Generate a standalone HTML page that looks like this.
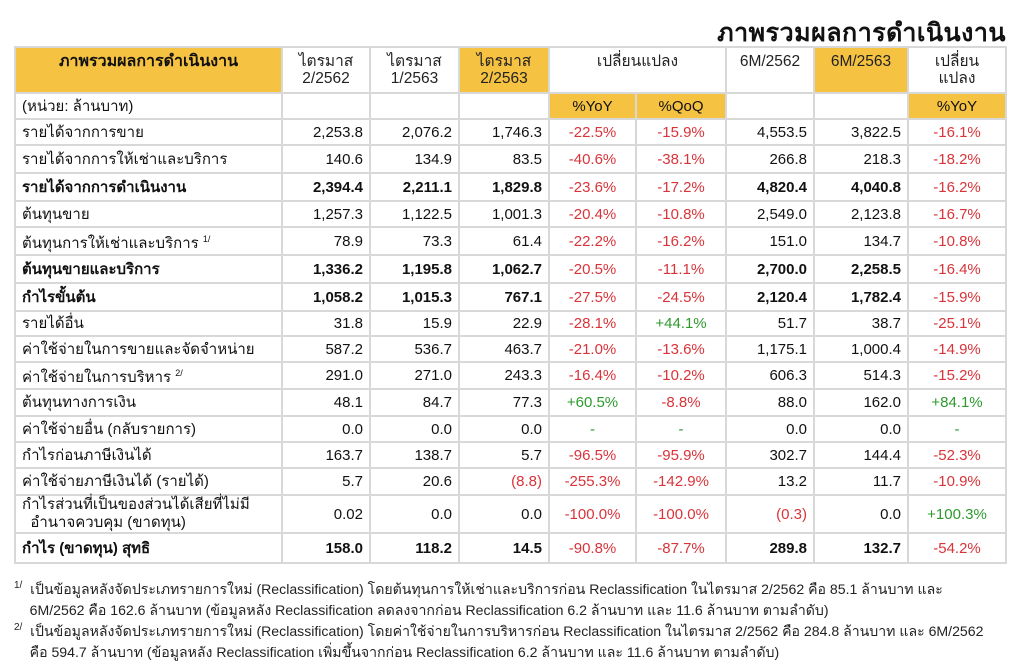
<!DOCTYPE html>
<html><head><meta charset="utf-8">
<style>
body{margin:0;width:1024px;height:661px;background:#fff;font-family:"Liberation Sans","DejaVu Sans",sans-serif;color:#111;position:relative;overflow:hidden}
.title{position:absolute;right:18px;top:13px;font-size:25px;font-weight:bold;letter-spacing:0.5px}
table{position:absolute;left:14px;top:46px;border-collapse:collapse;table-layout:fixed;font-size:15px}
td{border:2px solid #d8d8d8;padding:0 6px;white-space:nowrap;line-height:17px}
td.n{text-align:right}
td.c{text-align:center}
.g{background:#f5c242}
.r{color:#d9343a;text-align:center}
.gr{color:#2e9a2e;text-align:center}
.b{font-weight:bold}
.hd td{vertical-align:top;padding-top:5px;text-align:center;color:#222;font-size:15.5px}
.fn{position:absolute;left:14px;font-size:14.1px;line-height:21px;color:#222;white-space:nowrap}
.fn sup{font-size:10px;vertical-align:6px}
</style></head><body>
<div class="title">ภาพรวมผลการดำเนินงาน</div>
<table>
<colgroup><col style="width:267px"><col style="width:88px"><col style="width:89px"><col style="width:90px"><col style="width:87px"><col style="width:90px"><col style="width:88px"><col style="width:94px"><col style="width:98px"></colgroup>
<tr class="hd" style="height:46px"><td class="g b" style="text-align:center;font-size:16px;color:#111">ภาพรวมผลการดำเนินงาน</td><td>ไตรมาส<br>2/2562</td><td>ไตรมาส<br>1/2563</td><td class="g">ไตรมาส<br>2/2563</td><td colspan="2">เปลี่ยนแปลง</td><td>6M/2562</td><td class="g">6M/2563</td><td>เปลี่ยน<br>แปลง</td></tr>
<tr style="height:26px"><td>(หน่วย: ล้านบาท)</td><td></td><td></td><td></td><td class="g c">%YoY</td><td class="g c">%QoQ</td><td></td><td></td><td class="g c">%YoY</td></tr>
<tr style="height:26px"><td>รายได้จากการขาย</td><td class="n">2,253.8</td><td class="n">2,076.2</td><td class="n">1,746.3</td><td class="r">-22.5%</td><td class="r">-15.9%</td><td class="n">4,553.5</td><td class="n">3,822.5</td><td class="r">-16.1%</td></tr>
<tr style="height:28px"><td>รายได้จากการให้เช่าและบริการ</td><td class="n">140.6</td><td class="n">134.9</td><td class="n">83.5</td><td class="r">-40.6%</td><td class="r">-38.1%</td><td class="n">266.8</td><td class="n">218.3</td><td class="r">-18.2%</td></tr>
<tr style="height:28px" class="b"><td>รายได้จากการดำเนินงาน</td><td class="n">2,394.4</td><td class="n">2,211.1</td><td class="n">1,829.8</td><td class="r" style="font-weight:normal">-23.6%</td><td class="r" style="font-weight:normal">-17.2%</td><td class="n">4,820.4</td><td class="n">4,040.8</td><td class="r" style="font-weight:normal">-16.2%</td></tr>
<tr style="height:26px"><td>ต้นทุนขาย</td><td class="n">1,257.3</td><td class="n">1,122.5</td><td class="n">1,001.3</td><td class="r">-20.4%</td><td class="r">-10.8%</td><td class="n">2,549.0</td><td class="n">2,123.8</td><td class="r">-16.7%</td></tr>
<tr style="height:28px"><td>ต้นทุนการให้เช่าและบริการ <sup style="font-size:9px">1/</sup></td><td class="n">78.9</td><td class="n">73.3</td><td class="n">61.4</td><td class="r">-22.2%</td><td class="r">-16.2%</td><td class="n">151.0</td><td class="n">134.7</td><td class="r">-10.8%</td></tr>
<tr style="height:28px" class="b"><td>ต้นทุนขายและบริการ</td><td class="n">1,336.2</td><td class="n">1,195.8</td><td class="n">1,062.7</td><td class="r" style="font-weight:normal">-20.5%</td><td class="r" style="font-weight:normal">-11.1%</td><td class="n">2,700.0</td><td class="n">2,258.5</td><td class="r" style="font-weight:normal">-16.4%</td></tr>
<tr style="height:28px" class="b"><td>กำไรขั้นต้น</td><td class="n">1,058.2</td><td class="n">1,015.3</td><td class="n">767.1</td><td class="r" style="font-weight:normal">-27.5%</td><td class="r" style="font-weight:normal">-24.5%</td><td class="n">2,120.4</td><td class="n">1,782.4</td><td class="r" style="font-weight:normal">-15.9%</td></tr>
<tr style="height:25px"><td>รายได้อื่น</td><td class="n">31.8</td><td class="n">15.9</td><td class="n">22.9</td><td class="r">-28.1%</td><td class="gr">+44.1%</td><td class="n">51.7</td><td class="n">38.7</td><td class="r">-25.1%</td></tr>
<tr style="height:26px"><td>ค่าใช้จ่ายในการขายและจัดจำหน่าย</td><td class="n">587.2</td><td class="n">536.7</td><td class="n">463.7</td><td class="r">-21.0%</td><td class="r">-13.6%</td><td class="n">1,175.1</td><td class="n">1,000.4</td><td class="r">-14.9%</td></tr>
<tr style="height:27px"><td>ค่าใช้จ่ายในการบริหาร <sup style="font-size:9px">2/</sup></td><td class="n">291.0</td><td class="n">271.0</td><td class="n">243.3</td><td class="r">-16.4%</td><td class="r">-10.2%</td><td class="n">606.3</td><td class="n">514.3</td><td class="r">-15.2%</td></tr>
<tr style="height:27px"><td>ต้นทุนทางการเงิน</td><td class="n">48.1</td><td class="n">84.7</td><td class="n">77.3</td><td class="gr">+60.5%</td><td class="r">-8.8%</td><td class="n">88.0</td><td class="n">162.0</td><td class="gr">+84.1%</td></tr>
<tr style="height:26px"><td>ค่าใช้จ่ายอื่น (กลับรายการ)</td><td class="n">0.0</td><td class="n">0.0</td><td class="n">0.0</td><td class="gr">-</td><td class="gr">-</td><td class="n">0.0</td><td class="n">0.0</td><td class="gr">-</td></tr>
<tr style="height:26px"><td>กำไรก่อนภาษีเงินได้</td><td class="n">163.7</td><td class="n">138.7</td><td class="n">5.7</td><td class="r">-96.5%</td><td class="r">-95.9%</td><td class="n">302.7</td><td class="n">144.4</td><td class="r">-52.3%</td></tr>
<tr style="height:27px"><td>ค่าใช้จ่ายภาษีเงินได้ (รายได้)</td><td class="n">5.7</td><td class="n">20.6</td><td class="n" style="color:#d9343a">(8.8)</td><td class="r">-255.3%</td><td class="r">-142.9%</td><td class="n">13.2</td><td class="n">11.7</td><td class="r">-10.9%</td></tr>
<tr style="height:38px"><td style="line-height:18px">กำไรส่วนที่เป็นของส่วนได้เสียที่ไม่มี<br>&nbsp;&nbsp;อำนาจควบคุม (ขาดทุน)</td><td class="n">0.02</td><td class="n">0.0</td><td class="n">0.0</td><td class="r">-100.0%</td><td class="r">-100.0%</td><td class="n" style="color:#d9343a">(0.3)</td><td class="n">0.0</td><td class="gr">+100.3%</td></tr>
<tr style="height:30px" class="b"><td>กำไร (ขาดทุน) สุทธิ</td><td class="n">158.0</td><td class="n">118.2</td><td class="n">14.5</td><td class="r" style="font-weight:normal">-90.8%</td><td class="r" style="font-weight:normal">-87.7%</td><td class="n">289.8</td><td class="n">132.7</td><td class="r" style="font-weight:normal">-54.2%</td></tr>
</table>
<div class="fn" style="top:575px"><sup>1/</sup>&nbsp; เป็นข้อมูลหลังจัดประเภทรายการใหม่ (Reclassification) โดยต้นทุนการให้เช่าและบริการก่อน Reclassification ในไตรมาส 2/2562 คือ 85.1 ล้านบาท และ<br>&nbsp;&nbsp;&nbsp;&nbsp;6M/2562 คือ 162.6 ล้านบาท (ข้อมูลหลัง Reclassification ลดลงจากก่อน Reclassification 6.2 ล้านบาท และ 11.6 ล้านบาท ตามลำดับ)</div>
<div class="fn" style="top:617px"><sup>2/</sup>&nbsp; เป็นข้อมูลหลังจัดประเภทรายการใหม่ (Reclassification) โดยค่าใช้จ่ายในการบริหารก่อน Reclassification ในไตรมาส 2/2562 คือ 284.8 ล้านบาท และ 6M/2562<br>&nbsp;&nbsp;&nbsp;&nbsp;คือ 594.7 ล้านบาท (ข้อมูลหลัง Reclassification เพิ่มขึ้นจากก่อน Reclassification 6.2 ล้านบาท และ 11.6 ล้านบาท ตามลำดับ)</div>
</body></html>
